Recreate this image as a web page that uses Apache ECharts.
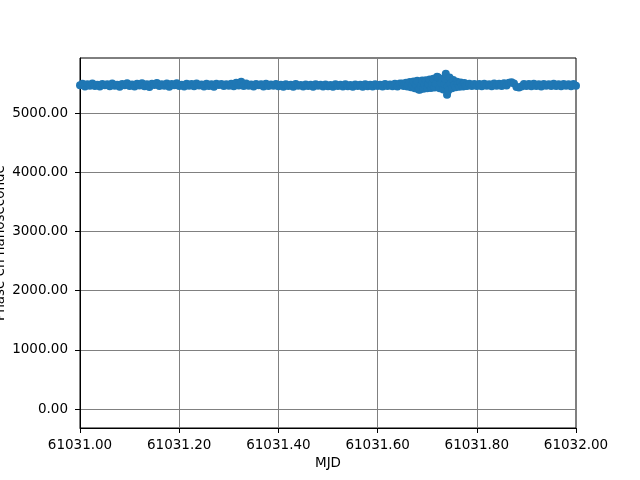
<!DOCTYPE html>
<html><head><meta charset="utf-8">
<script src="https://cdn.jsdelivr.net/npm/echarts@6/dist/echarts.min.js"></script>
<style>html,body{margin:0;padding:0;background:#fff}#c{width:640px;height:480px}</style>
</head><body><div id="c"></div>
<script>
const mjd = [
61031.000,61031.005,61031.010,61031.015,61031.020,61031.025,61031.030,61031.035,61031.040,61031.045,
61031.050,61031.055,61031.060,61031.065,61031.070,61031.075,61031.080,61031.085,61031.090,61031.095,
61031.100,61031.105,61031.110,61031.115,61031.120,61031.125,61031.130,61031.135,61031.140,61031.145,
61031.150,61031.155,61031.160,61031.165,61031.170,61031.175,61031.180,61031.185,61031.190,61031.195,
61031.200,61031.205,61031.210,61031.215,61031.220,61031.225,61031.230,61031.235,61031.240,61031.245,
61031.250,61031.255,61031.260,61031.265,61031.270,61031.275,61031.280,61031.285,61031.290,61031.295,
61031.300,61031.305,61031.310,61031.315,61031.320,61031.325,61031.330,61031.335,61031.340,61031.345,
61031.350,61031.355,61031.360,61031.365,61031.370,61031.375,61031.380,61031.385,61031.390,61031.395,
61031.400,61031.405,61031.410,61031.415,61031.420,61031.425,61031.430,61031.435,61031.440,61031.445,
61031.450,61031.455,61031.460,61031.465,61031.470,61031.475,61031.480,61031.485,61031.490,61031.495,
61031.500,61031.505,61031.510,61031.515,61031.520,61031.525,61031.530,61031.535,61031.540,61031.545,
61031.550,61031.555,61031.560,61031.565,61031.570,61031.575,61031.580,61031.585,61031.590,61031.595,
61031.600,61031.605,61031.610,61031.615,61031.620,61031.625,61031.630,61031.635,61031.640,61031.645,
61031.6500,61031.6525,61031.6550,61031.6575,61031.6600,61031.6625,61031.6650,61031.6675,61031.6700,61031.6725,
61031.6750,61031.6775,61031.6800,61031.6825,61031.6850,61031.6875,61031.6900,61031.6925,61031.6950,61031.6975,
61031.7000,61031.7025,61031.7050,61031.7075,61031.7100,61031.7125,61031.7150,61031.7175,61031.7200,61031.7225,
61031.7250,61031.7275,61031.7300,61031.7325,61031.7350,61031.7365,61031.7375,61031.7400,61031.7410,61031.7425,
61031.7450,61031.7475,61031.7500,61031.7525,61031.7550,61031.7575,61031.7600,61031.7625,61031.7650,61031.7675,
61031.7700,61031.7725,61031.7750,61031.7775,
61031.780,61031.785,61031.790,61031.795,
61031.800,61031.805,61031.810,61031.815,61031.820,61031.825,61031.830,61031.835,61031.840,61031.845,
61031.850,61031.855,61031.860,61031.865,61031.870,61031.875,61031.880,61031.885,61031.890,61031.895,
61031.900,61031.905,61031.910,61031.915,61031.920,61031.925,61031.930,61031.935,61031.940,61031.945,
61031.950,61031.955,61031.960,61031.965,61031.970,61031.975,61031.980,61031.985,61031.990,61031.995,
61032.000];
const phase = [
5470,5495,5450,5488,5462,5501,5455,5480,5447,5492,
5468,5485,5452,5498,5460,5479,5444,5490,5471,5503,
5458,5483,5449,5497,5466,5505,5452,5488,5440,5494,
5473,5508,5455,5486,5461,5499,5446,5491,5470,5502,
5457,5480,5450,5496,5463,5489,5453,5500,5467,5484,
5448,5493,5459,5487,5445,5497,5472,5490,5456,5485,
5462,5494,5451,5510,5466,5530,5455,5498,5460,5482,
5447,5491,5469,5486,5450,5495,5458,5481,5463,5489,
5452,5478,5446,5487,5458,5480,5443,5489,5461,5475,
5449,5484,5455,5477,5444,5486,5460,5479,5447,5483,
5453,5476,5445,5485,5457,5479,5448,5488,5454,5474,
5446,5482,5459,5477,5443,5486,5452,5480,5450,5487,
5456,5478,5449,5490,5455,5484,5451,5495,5448,5500,
5500,5455,5478,5510,5448,5480,5525,5435,5482,5535,
5420,5478,5545,5400,5395,5470,5550,5410,5485,5555,
5418,5490,5565,5425,5495,5580,5430,5505,5613,5600,
5420,5510,5575,5400,5490,5580,5664,5310,5450,5380,
5600,5500,5420,5560,5480,5435,5530,5485,5445,5515,
5470,5450,5508,5462,
5455,5494,5458,5490,
5455,5490,5452,5496,5460,5488,5454,5500,5462,5493,
5457,5505,5465,5510,5520,5498,5440,5432,5447,5492,
5456,5489,5453,5495,5459,5486,5450,5492,5461,5488,
5455,5494,5458,5487,5452,5491,5460,5485,5454,5490,
5462];
const yTicks = [0,1000,2000,3000,4000,5000];
const xTitle = 'MJD';
const yTitle = 'Phase en nanoseconde';

const font = 'DejaVu Sans';
const fs = 13.5;
const chart = echarts.init(document.getElementById('c'));
chart.setOption({
  animation: false,
  grid: {left: 80, right: 64, top: 58, bottom: 52, outerBoundsMode: 'none', containLabel: false,
         show: true, borderColor: '#000', borderWidth: 1, backgroundColor: 'transparent'},
  xAxis: {
    type: 'value', min: 61031, max: 61032, interval: 0.2,
    name: xTitle, nameLocation: 'middle', nameGap: 28, nameMoveOverlap: false,
    nameTextStyle: {fontFamily: font, fontSize: fs, color: '#000'},
    axisLine: {show: true, onZero: false, lineStyle: {color: '#000', width: 1}},
    axisTick: {show: true, inside: false, length: 5, lineStyle: {color: '#000'}},
    axisLabel: {fontFamily: font, fontSize: fs, color: '#000', margin: 10, formatter: v => v.toFixed(2)},
    splitLine: {show: true, lineStyle: {color: '#808080', width: 1}}
  },
  yAxis: {
    type: 'value', min: -320, max: 5930,
    name: yTitle, nameLocation: 'middle', nameGap: 73, nameMoveOverlap: false,
    nameTextStyle: {fontFamily: font, fontSize: fs, color: '#000'},
    axisLine: {show: true, onZero: false, lineStyle: {color: '#000', width: 1}},
    axisTick: {show: true, inside: false, length: 5, lineStyle: {color: '#000'}, customValues: yTicks},
    axisLabel: {fontFamily: font, fontSize: fs, color: '#000', margin: 12, customValues: yTicks, formatter: v => v.toFixed(2)},
    splitLine: {show: true, lineStyle: {color: '#808080', width: 1}}
  },
  series: [{
    type: 'scatter', symbol: 'circle', symbolSize: 8,
    itemStyle: {color: '#1f77b4', opacity: 1},
    data: mjd.map((x, i) => [x, phase[i]])
  }]
});
</script></body></html>
